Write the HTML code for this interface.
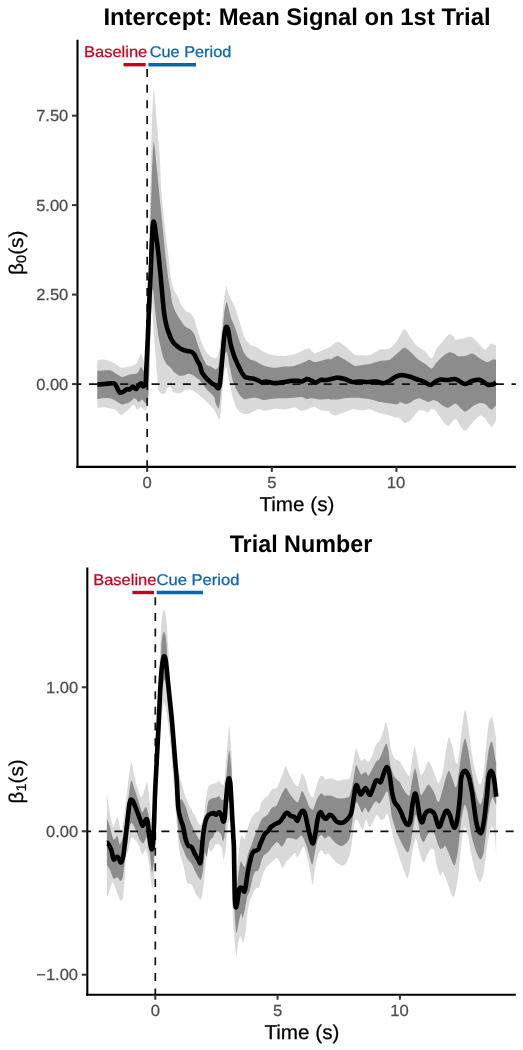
<!DOCTYPE html>
<html lang="en"><head><meta charset="utf-8"><title>Figure</title>
<style>html,body{margin:0;padding:0;background:#fff}svg{display:block}</style></head>
<body>
<svg width="523" height="1050" viewBox="0 0 523 1050" text-rendering="geometricPrecision" font-family='"Liberation Sans", sans-serif'>
<rect width="523" height="1050" fill="#fff"/>
<g id="p1">
<path d="M97.3 360.4C98.2 360.3 102.8 359.3 104.9 359.7C107.0 360.0 112.9 362.4 114.9 363.4C116.8 364.3 119.3 367.2 121.1 367.6C122.9 368.0 128.0 367.0 129.8 366.6C131.6 366.2 134.9 365.3 136.0 364.1C137.1 363.0 138.6 358.5 139.2 357.2C139.8 355.9 140.5 353.3 141.0 353.4C141.4 353.6 142.4 357.0 142.9 358.4C143.5 359.8 144.6 363.5 145.2 365.1C145.8 366.8 147.5 387.0 148.0 372.0C148.5 357.0 148.9 267.8 149.3 240.0C149.7 212.2 151.0 158.1 151.5 140.0C152.0 121.9 153.0 90.9 153.7 89.2C154.4 87.5 156.5 117.9 157.2 126.0C157.9 134.1 159.3 148.9 159.8 156.5C160.3 164.1 160.6 180.9 161.2 189.0C161.8 197.1 163.8 216.0 164.7 224.4C165.6 232.8 168.0 252.6 168.7 258.8C169.4 265.0 169.9 272.2 170.5 275.9C171.1 279.6 172.8 287.3 173.6 289.7C174.4 292.0 176.5 293.9 177.4 295.8C178.3 297.6 180.2 303.1 181.2 305.0C182.3 306.8 184.7 310.1 185.8 311.1C186.9 312.1 189.4 312.4 190.4 313.4C191.4 314.3 193.4 316.8 194.2 318.7C195.1 320.6 196.4 326.5 197.3 329.4C198.2 332.4 200.8 340.4 201.9 343.2C203.0 345.9 205.3 350.7 206.5 352.4C207.6 354.0 210.4 356.5 211.5 357.1C212.5 357.8 214.6 358.0 215.3 357.9C216.0 357.8 217.0 357.8 217.6 356.4C218.1 354.9 219.3 349.9 219.9 345.7C220.4 341.4 221.7 326.9 222.2 321.2C222.7 315.5 223.7 302.3 224.2 298.2C224.6 294.2 225.7 289.0 226.0 287.5C226.3 286.1 226.5 285.7 226.8 286.3C227.0 287.0 227.8 291.5 228.3 292.9C228.8 294.3 230.0 296.9 230.6 298.2C231.2 299.6 232.9 302.7 233.7 304.4C234.4 306.0 236.0 309.8 236.7 312.0C237.4 314.2 238.9 320.0 239.8 322.7C240.6 325.5 242.8 332.7 243.6 335.0C244.4 337.2 245.8 339.9 246.7 341.1C247.5 342.3 249.5 344.3 250.5 344.9C251.5 345.5 254.1 346.0 255.1 346.4C256.1 346.9 257.9 348.1 258.9 348.7C259.9 349.4 262.3 351.1 263.5 351.8C264.7 352.4 267.5 353.6 268.8 354.1C270.2 354.5 273.1 355.4 275.0 355.6C276.8 355.8 282.2 356.1 284.6 355.9C286.9 355.8 292.1 354.9 294.5 354.2C296.9 353.4 302.7 350.4 304.5 349.7C306.2 349.0 308.2 348.0 309.4 348.5C310.6 348.9 313.1 353.1 314.4 353.4C315.7 353.7 318.8 351.7 320.6 351.0C322.4 350.2 328.2 347.7 329.3 347.2C330.4 346.8 329.0 347.9 330.0 347.2C331.0 346.6 335.7 341.9 337.5 341.8C339.2 341.6 342.8 344.4 344.9 346.0C347.0 347.5 352.8 353.6 354.9 354.7C356.9 355.8 360.5 355.1 362.3 355.2C364.1 355.2 367.7 355.8 369.8 355.2C371.9 354.5 377.3 350.5 379.7 349.7C382.1 348.9 387.6 349.5 389.7 348.5C391.7 347.4 395.6 343.0 397.1 341.0C398.6 339.0 401.2 333.2 402.1 331.8C403.0 330.4 404.0 329.3 404.6 329.3C405.2 329.3 406.5 331.0 407.1 331.8C407.7 332.6 408.5 334.5 409.5 336.0C410.6 337.6 414.0 343.0 415.8 344.7C417.5 346.5 422.5 349.3 424.5 351.0C426.4 352.6 430.4 358.7 431.9 358.4C433.4 358.1 435.5 350.6 436.9 348.5C438.2 346.4 441.6 342.7 443.1 341.0C444.6 339.3 448.0 334.7 449.3 334.3C450.7 333.9 453.6 336.6 454.3 337.3C455.0 337.9 454.1 339.6 455.1 339.8C456.1 339.9 460.7 338.9 462.6 338.5C464.5 338.2 469.5 336.3 471.3 336.8C473.1 337.2 475.9 340.7 477.5 342.3C479.2 343.8 483.3 349.6 485.0 349.7C486.6 349.9 489.9 343.9 491.2 343.5C492.5 343.1 495.4 345.7 496.0 346.0L496.0 420.0C495.8 420.4 495.1 422.2 494.6 423.0C494.1 423.8 492.5 426.8 491.8 426.9C491.1 427.0 489.7 425.0 488.9 424.0C488.1 423.0 486.1 419.2 485.1 418.2C484.1 417.2 481.6 415.2 480.3 415.4C479.0 415.6 475.9 418.9 474.6 420.2C473.3 421.5 471.0 424.6 469.8 425.9C468.6 427.2 466.2 430.7 465.0 430.7C463.8 430.7 461.2 427.3 460.2 425.9C459.2 424.5 457.3 419.8 456.4 419.2C455.5 418.6 453.5 420.3 452.6 421.1C451.7 421.9 449.7 425.6 448.8 425.9C447.9 426.2 445.9 425.0 444.9 424.0C443.9 423.0 441.3 418.9 440.2 417.3C439.1 415.7 436.4 411.6 435.4 410.6C434.4 409.6 432.4 408.5 431.5 408.7C430.6 408.9 428.6 412.3 427.7 412.5C426.8 412.7 424.9 410.8 423.9 410.6C422.9 410.4 420.3 410.0 419.1 410.6C417.9 411.2 415.4 414.1 414.3 415.4C413.2 416.7 410.7 420.2 409.6 421.1C408.5 422.0 406.0 423.3 404.8 423.0C403.6 422.7 401.1 418.9 400.0 418.2C398.9 417.5 397.1 417.9 395.9 417.6C394.6 417.3 391.6 416.1 389.7 415.6C387.7 415.0 382.1 413.8 379.7 413.1C377.3 412.4 371.9 409.7 369.8 409.4C367.7 409.1 364.4 410.6 362.3 410.6C360.2 410.6 354.8 409.1 352.4 409.4C350.0 409.7 344.5 412.4 342.4 413.1C340.3 413.8 336.5 415.6 335.0 415.6C333.5 415.6 330.7 413.6 330.0 413.1C329.3 412.6 330.3 411.7 329.3 411.4C328.3 411.1 323.6 411.1 321.9 410.6C320.1 410.1 316.2 407.0 314.4 406.9C312.6 406.7 308.6 408.9 306.9 409.4C305.3 409.8 302.2 410.9 300.7 410.6C299.2 410.4 296.5 407.5 294.5 407.4C292.6 407.2 286.9 409.2 284.6 409.4C282.2 409.5 276.8 408.3 275.0 408.4C273.1 408.4 270.2 409.6 268.8 409.9C267.5 410.2 264.7 410.8 263.5 410.7C262.3 410.6 260.1 409.0 258.9 409.1C257.7 409.2 254.7 410.9 253.5 411.4C252.3 412.0 250.0 413.5 248.9 413.7C247.8 414.0 245.4 413.9 244.4 413.7C243.3 413.5 241.5 412.8 240.5 412.2C239.6 411.6 237.5 409.8 236.7 408.4C235.9 407.0 234.4 403.1 233.7 400.7C232.9 398.3 231.2 391.4 230.6 388.5C230.0 385.6 228.8 378.8 228.3 376.3C227.8 373.7 226.7 367.8 226.3 367.1C225.9 366.3 225.2 367.9 224.8 370.1C224.4 372.3 223.4 380.3 222.9 385.4C222.4 390.6 221.1 408.8 220.7 413.0C220.2 417.1 219.8 420.2 219.1 420.0C218.5 419.8 216.2 413.0 215.3 411.4C214.4 409.9 213.1 408.3 211.8 406.9C210.5 405.4 206.1 401.1 204.3 399.4C202.6 397.8 198.4 394.3 196.9 393.2C195.4 392.1 193.2 390.4 191.9 390.0C190.6 389.6 187.2 389.5 185.9 389.8C184.6 390.1 182.4 392.3 181.3 392.7C180.2 393.1 177.7 393.3 176.7 393.2C175.7 393.1 174.1 392.9 173.3 392.1C172.5 391.3 171.1 387.5 170.4 386.9C169.7 386.3 168.2 386.7 167.5 387.5C166.8 388.3 165.5 393.1 164.7 393.8C163.9 394.5 161.4 393.7 160.6 393.2C159.8 392.7 158.8 391.9 158.4 389.8C158.0 387.7 157.6 381.1 157.2 376.0C156.8 370.9 155.4 353.6 154.9 347.4C154.4 341.2 153.5 330.1 153.2 324.4C152.9 318.7 152.2 301.0 152.0 299.5C151.8 298.0 151.5 305.9 151.3 312.0C151.1 318.1 150.5 339.9 150.2 350.0C149.9 360.1 149.3 388.7 148.8 396.0C148.3 403.3 146.9 409.3 145.9 410.6C145.0 411.9 142.0 407.0 141.0 406.9C139.9 406.7 138.1 409.7 137.2 409.4C136.3 409.1 134.7 404.2 133.5 404.4C132.3 404.5 128.8 409.4 127.3 410.6C125.8 411.9 122.6 415.0 121.1 414.8C119.6 414.7 116.8 410.3 114.9 409.4C112.9 408.5 107.0 407.5 104.9 407.4C102.8 407.2 98.2 408.0 97.3 408.1Z" fill="#d9d9d9"/>
<path d="M97.3 370.8C98.8 370.8 107.5 369.9 109.9 370.3C112.3 370.8 115.9 373.8 117.3 374.6C118.8 375.4 120.8 377.1 122.3 377.1C123.8 377.1 128.0 375.0 129.8 374.6C131.6 374.1 135.9 374.2 137.2 373.3C138.6 372.4 140.2 367.4 141.0 367.1C141.7 366.8 142.9 369.9 143.4 370.8C144.0 371.7 145.1 374.0 145.7 374.6C146.2 375.2 147.5 389.7 148.0 376.0C148.5 362.3 149.0 283.5 149.5 260.0C150.0 236.5 151.3 194.2 151.8 180.0C152.3 165.8 153.1 142.9 153.7 141.9C154.3 140.9 156.6 166.0 157.2 171.8C157.8 177.6 158.3 183.7 158.9 190.0C159.5 196.3 161.6 216.1 162.4 224.4C163.2 232.7 165.1 252.6 165.8 258.8C166.5 265.0 167.4 272.0 167.9 275.9C168.5 279.8 170.0 287.9 170.5 291.2C171.1 294.5 171.7 300.9 172.4 303.4C173.0 306.0 174.9 310.6 175.9 312.6C176.9 314.6 179.4 318.6 180.5 320.2C181.6 321.9 183.9 325.3 185.1 326.4C186.3 327.5 189.3 328.5 190.4 329.4C191.5 330.3 193.4 332.4 194.2 334.0C195.1 335.7 196.4 340.6 197.3 343.2C198.2 345.8 200.8 352.9 201.9 355.4C203.0 358.0 205.3 363.2 206.5 364.6C207.6 366.0 210.4 366.5 211.5 367.1C212.5 367.6 214.5 369.4 215.3 369.4C216.1 369.4 217.5 368.5 218.0 367.1C218.6 365.7 219.4 361.6 219.9 357.9C220.4 354.2 221.7 341.8 222.2 336.5C222.7 331.2 223.7 317.5 224.2 313.5C224.6 309.6 225.7 304.9 226.0 303.6C226.4 302.3 226.7 302.0 227.1 302.8C227.4 303.7 228.5 308.6 229.1 310.5C229.6 312.4 230.7 317.1 231.4 318.9C232.0 320.7 233.7 323.8 234.4 325.8C235.2 327.7 236.7 332.7 237.5 335.0C238.2 337.2 239.8 342.1 240.5 344.1C241.3 346.1 242.9 350.3 243.6 351.8C244.3 353.2 245.8 355.4 246.7 356.4C247.5 357.3 249.5 358.9 250.5 359.4C251.5 360.0 254.1 360.5 255.1 361.0C256.1 361.4 257.9 362.7 258.9 363.3C259.9 363.8 262.3 365.1 263.5 365.5C264.7 366.0 267.5 366.8 268.8 367.1C270.2 367.3 273.1 367.9 275.0 367.8C276.8 367.8 282.2 366.9 284.6 366.6C286.9 366.4 292.1 366.4 294.5 365.9C296.9 365.3 302.7 362.9 304.5 362.1C306.2 361.4 308.2 359.7 309.4 359.7C310.6 359.7 313.1 362.0 314.4 362.1C315.7 362.3 318.8 361.3 320.6 360.9C322.4 360.5 328.2 358.6 329.3 358.4C330.4 358.3 329.0 360.0 330.0 359.7C331.0 359.4 335.7 355.9 337.5 355.9C339.2 355.9 342.8 358.5 344.9 359.7C347.0 360.8 352.8 365.2 354.9 365.9C356.9 366.5 360.5 365.3 362.3 365.1C364.1 364.9 367.7 364.6 369.8 364.1C371.9 363.6 377.3 361.4 379.7 360.9C382.1 360.4 387.4 360.7 389.7 359.7C391.9 358.6 396.6 353.6 398.4 352.2C400.1 350.8 403.1 347.7 404.6 347.7C406.1 347.7 409.3 350.9 410.8 352.2C412.3 353.5 415.4 357.1 417.0 358.4C418.6 359.8 422.7 362.2 424.5 363.4C426.2 364.6 430.4 368.5 431.9 368.4C433.4 368.2 435.5 363.6 436.9 362.1C438.2 360.7 441.6 357.1 443.1 355.9C444.6 354.7 448.0 352.5 449.3 352.2C450.7 351.9 453.3 353.0 454.3 353.4C455.3 353.9 456.3 355.6 457.6 355.9C458.9 356.2 463.3 356.2 465.1 355.9C466.9 355.6 470.8 353.1 472.5 353.4C474.3 353.7 478.2 357.4 480.0 358.4C481.8 359.5 486.0 362.0 487.5 362.1C488.9 362.3 491.4 360.0 492.4 359.7C493.5 359.4 495.6 359.7 496.0 359.7L496.0 405.5C495.8 405.7 495.1 406.3 494.6 406.8C494.1 407.3 492.5 409.5 491.8 409.6C491.1 409.7 489.7 408.4 488.9 407.7C488.1 407.0 486.1 404.5 485.1 403.9C484.1 403.3 481.6 402.8 480.3 402.9C479.0 403.0 475.9 404.2 474.6 404.9C473.3 405.6 471.0 407.9 469.8 408.7C468.6 409.5 466.2 411.6 465.0 411.5C463.8 411.4 461.2 408.6 460.2 407.7C459.2 406.8 457.3 404.2 456.4 403.9C455.5 403.6 453.6 404.4 452.6 404.9C451.6 405.4 449.0 407.6 447.8 407.7C446.6 407.8 444.2 406.5 443.0 405.8C441.8 405.1 439.3 402.7 438.2 402.0C437.1 401.3 434.6 400.1 433.5 400.1C432.4 400.1 429.9 402.0 428.7 402.0C427.5 402.0 425.1 400.6 423.9 400.1C422.7 399.6 420.3 398.2 419.1 398.2C417.9 398.2 415.4 399.5 414.3 400.1C413.2 400.7 410.7 402.4 409.6 402.9C408.5 403.4 406.0 404.0 404.8 403.9C403.6 403.8 400.9 401.9 400.0 402.0C399.1 402.1 398.4 404.3 397.1 404.4C395.9 404.5 391.7 403.5 389.7 403.2C387.6 402.9 382.0 402.4 379.7 401.9C377.5 401.5 373.1 399.9 371.0 399.4C368.9 399.0 364.6 398.4 362.3 398.2C360.1 398.0 354.5 397.7 352.4 397.7C350.3 397.7 346.7 398.0 344.9 398.2C343.1 398.4 339.2 399.3 337.5 399.4C335.7 399.6 331.0 399.5 330.0 399.4C329.0 399.4 330.6 398.9 329.3 398.9C328.0 398.9 321.5 399.5 319.4 399.4C317.3 399.3 313.4 398.2 311.9 398.2C310.4 398.1 308.1 399.1 306.9 398.9C305.7 398.8 303.5 397.1 302.0 396.9C300.5 396.8 296.6 397.5 294.5 397.7C292.4 397.8 286.9 398.1 284.6 398.2C282.2 398.3 276.8 398.3 275.0 398.4C273.1 398.6 270.2 399.0 268.8 399.2C267.5 399.4 264.7 400.1 263.5 400.0C262.3 399.9 260.0 398.7 258.9 398.4C257.8 398.2 255.5 397.7 254.3 397.7C253.1 397.7 250.1 398.2 248.9 398.4C247.8 398.6 245.4 399.5 244.4 399.2C243.3 398.9 241.5 397.2 240.5 396.1C239.6 395.0 237.6 391.9 236.7 390.0C235.8 388.2 233.7 383.6 232.9 380.8C232.1 378.1 230.5 370.2 229.8 367.1C229.2 364.0 228.0 356.7 227.5 354.8C227.1 353.0 226.4 351.4 226.0 351.8C225.6 352.1 224.9 354.6 224.5 357.9C224.0 361.2 222.7 374.0 222.2 379.3C221.6 384.6 220.3 398.8 219.9 402.3C219.4 405.7 218.9 408.4 218.4 408.4C217.8 408.4 215.8 403.6 215.3 402.3C214.8 400.9 215.3 398.5 214.3 396.9C213.3 395.4 208.5 391.4 206.8 389.5C205.1 387.5 201.1 381.9 200.0 380.6C198.9 379.3 198.3 379.0 197.4 378.3C196.5 377.6 193.9 375.5 192.8 374.9C191.7 374.3 189.3 373.6 188.2 373.7C187.1 373.8 184.7 375.3 183.6 375.5C182.5 375.7 180.1 375.8 179.0 375.5C177.9 375.2 175.4 373.5 174.4 372.6C173.4 371.7 171.9 369.0 171.0 368.0C170.1 367.0 168.0 366.0 167.0 364.6C166.0 363.2 163.9 359.9 162.9 356.5C161.9 353.1 159.3 341.1 158.4 335.9C157.5 330.7 156.1 318.5 155.5 312.9C154.9 307.3 153.4 290.5 153.0 289.0C152.6 287.5 152.2 293.3 151.8 300.0C151.4 306.7 150.4 334.0 150.0 345.0C149.6 356.0 149.0 385.0 148.5 392.0C148.0 399.0 146.7 402.3 145.9 403.2C145.2 404.0 143.1 399.6 142.2 399.4C141.3 399.3 139.4 402.1 138.5 401.9C137.6 401.8 135.8 398.2 134.7 398.2C133.7 398.2 131.3 401.2 129.8 401.9C128.3 402.7 123.8 404.4 122.3 404.4C120.8 404.4 118.8 402.7 117.3 401.9C115.9 401.2 112.3 398.5 109.9 398.2C107.5 397.8 98.8 398.8 97.3 398.9Z" fill="#8c8c8c"/>
<line x1="77.50" y1="384.10" x2="515.80" y2="384.10" stroke="#111" stroke-width="1.7" stroke-dasharray="8 7.65" stroke-dashoffset="4.2"/>
<line x1="147.15" y1="69.00" x2="147.15" y2="466.90" stroke="#111" stroke-width="1.7" stroke-dasharray="8 7.65"/>
<path d="M97.3 384.5C98.6 384.4 102.2 384.2 104.9 384.0C107.6 383.8 111.7 383.0 113.6 383.3C115.5 383.6 115.1 384.2 116.1 385.8C117.1 387.3 118.6 391.5 119.8 392.5C121.1 393.4 122.3 392.1 123.6 391.5C124.8 390.9 126.2 389.3 127.3 389.0C128.3 388.7 128.9 389.9 129.8 389.5C130.7 389.1 131.7 386.6 132.8 386.5C133.8 386.4 135.0 389.1 136.0 389.0C136.9 388.9 137.6 386.7 138.5 385.8C139.3 384.8 140.2 383.2 141.0 383.3C141.7 383.4 142.3 386.0 142.9 386.3C143.6 386.5 144.2 385.6 144.7 385.0C145.1 384.5 145.4 386.0 145.7 383.0C146.0 380.0 146.0 375.0 146.4 367.0C146.8 359.0 147.4 346.2 147.9 335.0C148.4 323.8 148.8 310.8 149.3 300.0C149.8 289.2 150.4 279.0 150.8 270.0C151.2 261.0 151.4 253.0 151.7 246.0C152.0 239.0 152.3 232.1 152.6 228.0C152.9 223.9 153.1 222.3 153.4 221.7C153.7 221.1 154.0 221.9 154.5 224.5C155.0 227.1 155.7 232.3 156.3 237.0C156.9 241.7 157.6 246.5 158.3 252.9C159.0 259.4 159.9 268.4 160.6 275.9C161.3 283.4 162.0 291.8 162.6 298.0C163.2 304.2 163.5 308.5 164.1 312.9C164.7 317.3 165.4 321.1 166.2 324.4C166.9 327.6 167.7 329.9 168.6 332.4C169.5 334.9 170.5 337.6 171.5 339.5C172.5 341.4 173.2 342.5 174.4 343.8C175.6 345.1 177.2 346.2 178.5 347.2C179.8 348.2 181.1 349.0 182.5 349.6C183.9 350.2 185.5 350.6 187.0 351.0C188.5 351.4 190.3 351.3 191.6 352.0C192.9 352.7 193.6 353.5 194.6 355.0C195.6 356.5 196.6 359.2 197.5 361.0C198.4 362.8 199.3 363.6 200.0 365.5C200.7 367.4 200.9 370.2 201.9 372.3C202.8 374.3 204.6 376.2 205.7 377.6C206.9 379.0 207.8 379.7 208.8 380.7C209.7 381.6 210.4 382.3 211.5 383.1C212.6 383.9 214.2 384.6 215.3 385.4C216.4 386.3 217.3 388.4 218.0 388.2C218.8 387.9 219.2 388.7 219.9 383.9C220.6 379.1 221.5 367.3 222.2 359.4C222.9 351.5 223.6 341.7 224.2 336.5C224.8 331.3 225.3 329.6 225.7 328.1C226.1 326.5 226.4 326.9 226.8 327.0C227.1 327.1 227.5 327.8 227.8 328.8C228.2 329.9 228.3 330.9 228.8 333.4C229.2 336.0 229.8 340.6 230.6 344.1C231.4 347.7 232.5 351.5 233.7 354.8C234.8 358.2 236.2 361.2 237.5 364.0C238.8 366.8 240.2 369.6 241.3 371.7C242.4 373.7 243.3 375.2 244.4 376.3C245.4 377.3 246.0 377.4 247.4 377.8C248.8 378.2 251.1 378.2 252.8 378.5C254.4 378.9 255.8 379.4 257.4 380.1C258.9 380.7 260.5 382.1 262.0 382.4C263.4 382.6 264.4 381.6 265.8 381.6C267.2 381.6 268.8 382.1 270.4 382.4C271.9 382.6 272.6 383.2 275.0 383.1C277.3 383.1 281.7 382.4 284.6 382.0C287.4 381.6 289.7 381.0 292.0 380.8C294.3 380.6 296.6 380.7 298.2 380.8C299.9 380.9 300.5 381.8 302.0 381.5C303.4 381.2 305.3 379.2 306.9 379.0C308.6 378.9 310.5 380.2 311.9 380.8C313.4 381.4 314.2 382.9 315.6 382.8C317.1 382.6 318.7 380.5 320.6 380.0C322.5 379.6 324.5 380.3 326.8 380.0C329.1 379.7 332.5 378.7 334.3 378.3C336.1 377.9 335.7 377.4 337.5 377.6C339.2 377.7 342.4 378.3 344.9 379.0C347.4 379.8 349.9 381.6 352.4 382.0C354.9 382.4 357.3 381.5 359.8 381.5C362.3 381.5 364.6 382.0 367.3 382.0C370.0 382.0 373.3 381.3 376.0 381.5C378.7 381.7 381.2 383.4 383.4 383.3C385.7 383.1 387.6 381.9 389.7 380.8C391.7 379.7 393.8 377.5 395.9 376.6C397.9 375.6 399.8 375.1 402.1 375.1C404.4 375.1 407.3 375.9 409.5 376.6C411.8 377.2 413.7 378.3 415.8 379.0C417.8 379.7 420.1 380.1 422.0 380.8C423.8 381.5 425.5 382.6 426.9 383.3C428.4 384.0 429.2 385.3 430.7 385.0C432.1 384.7 434.0 382.4 435.6 381.5C437.3 380.6 438.7 379.8 440.6 379.5C442.5 379.3 444.5 380.1 446.8 380.0C449.1 380.0 452.5 379.0 454.3 379.0C456.1 379.0 455.8 379.2 457.6 380.0C459.4 380.9 462.6 383.9 465.1 384.0C467.6 384.1 470.1 381.4 472.5 380.8C475.0 380.1 477.5 379.4 480.0 380.0C482.5 380.7 485.4 383.8 487.5 384.5C489.5 385.3 491.0 384.8 492.4 384.5C493.9 384.2 495.4 382.9 496.0 382.5" fill="none" stroke="#000" stroke-width="4.6" stroke-linejoin="round" stroke-linecap="butt"/>
<line x1="123.5" y1="64.7" x2="145.7" y2="64.7" stroke="#ca0020" stroke-width="3.4"/>
<line x1="148.4" y1="64.7" x2="196.0" y2="64.7" stroke="#0a63b4" stroke-width="3.4"/>
<text transform="translate(83.97,57.40) scale(1.0643,1)" font-size="15.5" stroke="#ca0020" stroke-width="0.25" fill="#ca0020">Baseline</text>
<text transform="translate(149.71,57.40) scale(1.0521,1)" font-size="15.5" stroke="#0a63b4" stroke-width="0.25" fill="#0a63b4">Cue Period</text>
<path d="M77.50 39.80V466.90H515.80" fill="none" stroke="#000" stroke-width="2.1"/>
<rect x="76.45" y="465.85" width="2.1" height="2.1" fill="#000"/>
<line x1="72.00" x2="77.50" y1="115.70" y2="115.70" stroke="#333" stroke-width="2"/>
<text transform="translate(36.18,121.45) scale(1.0300,1)" font-size="16" stroke="#4d4d4d" stroke-width="0.25" fill="#4d4d4d">7.50</text>
<line x1="72.00" x2="77.50" y1="205.10" y2="205.10" stroke="#333" stroke-width="2"/>
<text transform="translate(36.18,210.85) scale(1.0300,1)" font-size="16" stroke="#4d4d4d" stroke-width="0.25" fill="#4d4d4d">5.00</text>
<line x1="72.00" x2="77.50" y1="294.60" y2="294.60" stroke="#333" stroke-width="2"/>
<text transform="translate(36.18,300.35) scale(1.0300,1)" font-size="16" stroke="#4d4d4d" stroke-width="0.25" fill="#4d4d4d">2.50</text>
<line x1="72.00" x2="77.50" y1="384.10" y2="384.10" stroke="#333" stroke-width="2"/>
<text transform="translate(36.18,389.85) scale(1.0300,1)" font-size="16" stroke="#4d4d4d" stroke-width="0.25" fill="#4d4d4d">0.00</text>
<line x1="147.15" x2="147.15" y1="466.90" y2="471.90" stroke="#333" stroke-width="2"/>
<text transform="translate(142.53,488.10) scale(1.0400,1)" font-size="16" stroke="#4d4d4d" stroke-width="0.25" fill="#4d4d4d">0</text>
<line x1="271.80" x2="271.80" y1="466.90" y2="471.90" stroke="#333" stroke-width="2"/>
<text transform="translate(267.19,488.10) scale(1.0400,1)" font-size="16" stroke="#4d4d4d" stroke-width="0.25" fill="#4d4d4d">5</text>
<line x1="396.40" x2="396.40" y1="466.90" y2="471.90" stroke="#333" stroke-width="2"/>
<text transform="translate(386.84,488.10) scale(1.0400,1)" font-size="16" stroke="#4d4d4d" stroke-width="0.25" fill="#4d4d4d">10</text>
<text transform="translate(259.38,510.80) scale(1.0342,1)" font-size="20" stroke="#000" stroke-width="0.25" fill="#000">Time (s)</text>
<text transform="translate(22.50,274.93) rotate(-90) scale(1.0400,1)" font-size="20" fill="#000" stroke="#000" stroke-width="0.22">β<tspan font-size="14" dy="3.9">0</tspan><tspan dy="-3.9">(s)</tspan></text>
<text transform="translate(103.38,24.50) scale(0.9942,1)" font-size="24" font-weight="bold" fill="#000">Intercept: Mean Signal on 1st Trial</text>
</g>
<g id="p2">
<path d="M106.9 793.4C107.1 794.8 108.1 801.5 108.6 804.6C109.1 807.8 110.5 816.9 111.1 819.5C111.7 822.2 112.9 827.3 113.6 827.0C114.4 826.7 116.6 817.1 117.3 817.1C118.1 817.1 119.2 825.5 119.8 827.0C120.4 828.5 121.4 834.0 122.3 829.5C123.2 825.0 126.2 797.8 127.3 789.7C128.3 781.7 130.3 764.5 131.0 762.4C131.8 760.3 132.8 769.3 133.5 772.3C134.2 775.3 136.3 784.2 137.2 787.2C138.1 790.2 140.2 796.4 141.0 797.2C141.7 797.9 142.7 795.2 143.4 793.4C144.2 791.7 146.4 781.2 147.2 782.3C147.9 783.3 149.1 797.7 149.7 802.1C150.3 806.6 151.5 819.8 152.1 819.5C152.8 819.3 154.4 811.9 155.0 800.0C155.6 788.1 156.9 736.2 157.5 720.0C158.1 703.8 159.3 673.9 159.6 665.0C159.9 656.1 160.1 650.9 160.3 645.9C160.5 640.9 161.1 626.9 161.4 623.0C161.7 619.1 162.3 614.6 162.6 613.0C162.9 611.4 163.7 609.9 164.0 609.9C164.3 609.9 165.1 611.4 165.4 613.0C165.7 614.6 166.4 619.1 166.7 623.0C167.0 626.9 167.9 640.9 168.2 645.9C168.5 650.9 168.8 657.9 169.2 665.0C169.6 672.1 170.8 695.4 171.5 705.0C172.2 714.6 174.2 737.0 175.0 745.0C175.8 753.0 177.8 767.8 178.5 772.0C179.2 776.2 180.0 777.2 180.7 779.8C181.4 782.3 183.4 790.3 184.5 793.4C185.5 796.6 188.2 803.3 189.4 805.9C190.6 808.4 193.2 812.3 194.4 814.6C195.6 816.8 198.3 823.6 199.4 824.5C200.4 825.4 202.4 824.7 203.1 822.0C203.8 819.3 205.0 806.3 205.6 802.1C206.2 798.0 207.3 789.4 208.1 787.2C208.8 785.1 210.9 784.7 211.8 784.2C212.7 783.8 214.4 783.7 215.3 783.3C216.2 782.9 218.3 780.8 219.1 781.0C219.9 781.2 221.5 784.7 222.2 784.8C222.8 784.9 224.0 784.9 224.5 781.8C225.0 778.7 225.9 764.0 226.3 758.8C226.7 753.7 227.5 742.9 227.8 738.9C228.2 735.0 229.0 725.8 229.4 725.9C229.7 726.1 230.3 736.0 230.6 740.5C230.9 745.0 231.9 754.5 232.1 763.4C232.4 772.4 232.3 804.6 232.5 815.0C232.7 825.4 233.6 843.2 234.0 850.0C234.4 856.8 235.2 868.9 235.5 872.0C235.8 875.1 236.4 877.3 236.7 876.0C237.0 874.7 237.6 864.8 237.9 861.2C238.2 857.6 239.1 848.9 239.5 845.9C239.9 842.9 240.6 837.1 241.0 836.0C241.4 834.9 242.0 836.3 242.5 836.7C243.0 837.1 244.4 839.3 244.8 839.0C245.2 838.7 245.4 835.5 245.9 833.8C246.4 832.1 248.2 826.6 248.9 824.6C249.7 822.6 251.2 818.4 252.0 817.0C252.8 815.5 255.0 813.1 255.8 812.4C256.7 811.6 258.2 811.9 258.9 810.8C259.5 809.7 260.5 804.7 261.2 803.2C261.8 801.7 263.4 799.5 264.2 798.6C265.1 797.7 267.2 796.6 268.1 795.5C269.0 794.4 270.9 790.3 271.9 789.4C272.9 788.5 275.6 788.8 276.5 787.9C277.4 787.0 278.7 784.1 279.5 782.3C280.4 780.4 282.5 774.3 283.3 772.3C284.0 770.4 285.0 765.8 285.8 766.1C286.5 766.4 288.4 772.7 289.5 774.8C290.5 776.9 293.4 782.2 294.5 783.5C295.5 784.8 297.3 787.2 298.2 786.0C299.1 784.8 301.0 774.3 301.9 773.6C302.8 772.8 304.7 777.4 305.6 779.8C306.5 782.2 308.5 791.4 309.4 793.4C310.3 795.5 312.2 798.2 313.1 797.2C314.0 796.1 315.9 787.3 316.8 784.7C317.7 782.2 319.7 776.9 320.6 776.0C321.4 775.1 323.8 776.9 324.3 777.3C324.8 777.7 324.1 779.4 324.9 779.5C325.7 779.7 329.6 778.1 331.1 778.3C332.6 778.4 335.9 780.6 337.3 780.8C338.8 780.9 342.1 779.8 343.6 779.5C345.0 779.2 348.7 780.1 349.8 778.3C350.9 776.5 352.0 768.2 352.8 764.6C353.5 761.0 355.3 749.7 356.0 748.5C356.7 747.3 357.9 753.2 358.5 754.7C359.1 756.2 360.2 760.5 361.0 760.9C361.7 761.3 363.8 758.3 364.7 758.4C365.6 758.6 367.5 762.4 368.4 762.1C369.3 761.8 371.2 758.0 372.1 755.9C373.0 753.8 375.0 746.5 375.9 744.7C376.8 743.0 378.7 742.7 379.6 741.0C380.5 739.4 382.6 733.3 383.3 731.1C384.1 728.8 385.2 722.4 385.8 722.4C386.4 722.4 387.7 727.9 388.3 731.1C388.9 734.2 390.0 745.2 390.8 748.5C391.5 751.8 393.5 756.9 394.5 758.4C395.6 759.9 398.3 759.6 399.5 760.9C400.7 762.2 403.3 767.8 404.5 769.6C405.6 771.4 408.5 776.9 409.4 775.8C410.3 774.8 411.3 764.5 411.9 760.9C412.5 757.3 413.8 746.6 414.4 746.0C415.0 745.4 416.1 752.5 416.9 755.9C417.6 759.4 419.7 772.8 420.6 774.6C421.5 776.4 423.4 772.5 424.3 770.8C425.2 769.2 427.2 761.3 428.1 760.9C429.0 760.5 430.9 765.2 431.8 767.1C432.7 769.1 435.0 775.6 435.5 777.1C436.1 778.5 436.1 778.7 436.5 779.4C436.9 780.2 438.2 784.0 439.0 783.2C439.7 782.3 441.9 775.7 442.7 772.0C443.5 768.2 445.0 756.3 445.7 752.1C446.4 747.9 448.2 737.9 448.9 737.2C449.7 736.4 451.4 743.2 452.2 745.9C452.9 748.6 454.5 757.5 455.1 759.5C455.8 761.6 457.0 765.1 457.6 763.3C458.2 761.5 459.5 749.5 460.1 744.6C460.7 739.7 462.0 726.4 462.6 722.3C463.2 718.1 464.5 710.0 465.1 709.8C465.7 709.7 466.9 716.8 467.6 721.0C468.2 725.2 469.8 739.4 470.6 744.6C471.3 749.8 472.9 760.3 473.8 764.5C474.6 768.7 476.7 777.0 477.5 779.4C478.3 781.8 479.7 785.3 480.5 784.4C481.2 783.5 483.0 776.7 483.7 772.0C484.4 767.2 485.6 750.4 486.2 744.6C486.8 738.8 488.0 726.8 488.7 723.5C489.4 720.2 491.1 716.8 491.7 716.8C492.3 716.8 493.2 721.4 493.7 723.5C494.1 725.6 495.1 733.0 495.4 734.7C495.7 736.3 496.1 736.9 496.2 737.2L496.2 854.6C496.0 852.5 495.3 840.5 494.9 837.2C494.5 833.9 493.5 828.1 492.9 827.2C492.4 826.3 491.2 827.3 490.4 829.7C489.7 832.1 487.8 842.0 487.0 847.1C486.2 852.2 484.5 867.8 483.7 872.0C483.0 876.1 481.4 881.6 480.5 881.9C479.6 882.2 477.4 877.7 476.3 874.5C475.2 871.2 472.3 859.3 471.3 854.6C470.3 849.8 468.4 838.0 467.6 834.7C466.8 831.4 465.3 826.0 464.6 827.2C463.8 828.4 462.1 838.7 461.4 844.6C460.6 850.6 458.9 871.1 458.1 876.9C457.4 882.8 455.8 890.7 455.1 893.1C454.5 895.5 453.4 897.6 452.7 896.8C451.9 896.1 449.8 889.3 448.9 886.9C448.0 884.5 445.9 878.7 445.2 876.9C444.5 875.2 443.3 872.1 442.7 872.0C442.1 871.8 441.0 876.6 440.2 875.7C439.5 874.8 437.2 867.5 436.5 864.5C435.8 861.5 434.9 852.8 434.3 850.9C433.7 849.0 432.1 848.0 431.3 848.4C430.5 848.9 428.2 853.0 427.3 854.6C426.5 856.3 425.1 861.6 424.3 862.1C423.6 862.5 422.1 860.3 421.4 858.4C420.6 856.4 418.8 848.3 418.1 845.9C417.4 843.5 416.3 837.7 415.6 838.5C415.0 839.2 413.1 848.4 412.4 852.1C411.7 855.9 410.5 866.4 409.9 869.5C409.3 872.7 408.1 877.9 407.4 878.2C406.8 878.5 405.3 874.1 404.5 872.0C403.6 869.9 401.6 863.5 400.7 860.8C399.8 858.2 397.9 852.5 397.0 849.7C396.1 846.8 394.2 840.7 393.3 837.2C392.4 833.8 390.3 823.9 389.5 821.1C388.8 818.2 387.7 813.9 387.1 813.6C386.5 813.3 385.3 817.8 384.6 818.6C383.8 819.3 381.7 820.3 380.8 819.8C379.9 819.4 378.0 814.7 377.1 814.9C376.2 815.0 374.3 819.6 373.4 821.1C372.5 822.6 370.6 827.4 369.7 827.3C368.8 827.1 366.8 819.5 365.9 819.8C365.1 820.1 363.4 829.2 362.7 829.8C362.0 830.4 360.4 826.0 359.7 824.8C359.1 823.6 357.8 820.1 357.2 819.8C356.6 819.5 355.3 819.9 354.7 822.3C354.1 824.7 352.9 835.8 352.3 839.7C351.7 843.6 350.5 851.8 349.8 854.6C349.0 857.5 346.9 862.0 346.0 863.3C345.1 864.7 343.4 865.8 342.3 865.8C341.3 865.8 338.5 864.2 337.3 863.3C336.1 862.4 333.4 859.5 332.4 858.4C331.3 857.2 329.5 853.8 328.6 853.4C327.7 852.9 325.8 855.1 324.9 854.6C324.0 854.2 322.1 849.4 321.2 849.7C320.3 850.0 318.3 854.4 317.5 857.1C316.7 859.8 315.1 868.7 314.5 872.0C313.9 875.3 313.2 885.3 312.6 884.7C312.0 884.2 310.4 871.8 309.4 867.3C308.4 862.9 305.4 849.4 304.4 847.5C303.4 845.5 301.5 850.0 300.7 851.2C299.8 852.4 298.1 857.2 297.4 857.4C296.8 857.6 295.9 852.7 295.0 852.8C294.1 852.9 291.0 857.2 290.0 858.2C289.0 859.2 287.5 860.2 286.8 861.0C286.1 861.8 285.0 864.0 284.5 864.9C284.0 865.8 283.0 868.3 282.5 868.2C282.0 868.1 281.1 865.0 280.6 863.9C280.1 862.8 278.7 859.8 278.2 859.1C277.7 858.4 276.9 857.5 276.3 857.7C275.7 857.9 274.2 860.0 273.5 860.6C272.8 861.2 271.3 862.3 270.6 862.9C269.9 863.5 268.4 865.0 267.7 865.8C267.0 866.6 265.5 868.4 264.9 869.6C264.3 870.8 263.0 873.9 262.5 875.4C262.0 876.9 261.1 880.6 260.6 882.1C260.1 883.6 259.1 887.1 258.6 887.8C258.1 888.5 257.2 887.5 256.7 887.8C256.2 888.1 254.9 889.7 254.3 890.7C253.7 891.7 252.5 895.0 252.0 896.0C251.5 897.0 251.0 897.3 250.5 899.0C250.0 900.7 248.5 906.2 247.9 910.1C247.3 914.0 246.2 927.6 245.6 931.5C245.0 935.4 243.9 942.4 243.3 943.0C242.7 943.6 240.8 935.8 240.2 936.1C239.6 936.4 238.4 942.9 237.9 945.3C237.4 947.7 236.8 956.8 236.4 956.0C236.0 955.2 234.8 945.5 234.3 939.0C233.8 932.5 232.7 914.8 232.3 902.0C231.9 889.2 231.4 842.1 231.1 832.3C230.7 822.4 229.8 820.6 229.4 820.0C228.9 819.5 228.0 824.1 227.5 827.7C227.1 831.3 226.1 846.1 225.6 849.9C225.1 853.8 224.0 860.0 223.6 859.9C223.2 859.8 222.7 850.9 222.2 849.1C221.6 847.2 219.9 845.0 219.1 844.5C218.3 843.9 215.9 844.2 215.3 844.5C214.7 844.8 214.9 846.0 214.3 846.9C213.7 847.8 211.3 851.8 210.6 851.9C209.8 851.9 208.7 845.9 208.1 847.5C207.5 849.0 206.2 859.8 205.6 864.9C205.0 869.9 203.7 885.5 203.1 889.7C202.5 893.9 201.5 899.2 200.6 899.7C199.7 900.1 196.7 895.2 195.6 893.4C194.6 891.7 193.0 886.1 191.9 884.7C190.9 883.4 188.0 884.7 186.9 882.3C185.9 879.8 184.1 867.9 183.2 864.3C182.3 860.6 180.3 856.9 179.5 851.9C178.7 846.8 177.3 829.7 176.6 822.0C175.9 814.3 174.6 796.4 174.0 788.0C173.4 779.6 171.8 759.2 171.2 752.0C170.6 744.8 169.2 732.8 168.6 728.0C168.0 723.2 167.0 715.1 166.5 712.0C166.0 708.9 164.9 702.5 164.4 702.5C163.9 702.5 162.8 708.1 162.3 712.0C161.8 715.9 160.9 728.6 160.5 735.0C160.1 741.4 159.1 757.2 158.7 765.0C158.3 772.8 157.4 791.0 157.0 800.0C156.6 809.0 155.7 830.4 155.3 840.0C154.9 849.6 154.4 874.2 154.0 880.0C153.6 885.8 152.7 890.4 152.1 888.5C151.6 886.6 149.9 869.0 149.2 864.3C148.4 859.6 146.8 850.6 145.9 849.4C145.1 848.2 143.1 854.9 142.2 854.3C141.3 853.7 139.4 846.2 138.5 844.4C137.6 842.6 135.6 840.2 134.7 839.4C133.8 838.7 131.9 836.4 131.0 838.2C130.1 840.0 127.9 852.6 127.3 854.3C126.7 856.0 126.3 849.7 126.0 852.4C125.7 855.2 125.2 871.8 124.8 877.3C124.4 882.8 123.4 895.7 122.8 898.4C122.2 901.1 120.6 900.7 119.8 899.7C119.0 898.6 117.0 891.8 116.1 889.7C115.2 887.6 113.3 881.8 112.4 882.3C111.5 882.7 109.3 891.7 108.6 893.4C108.0 895.2 107.1 896.7 106.9 897.2Z" fill="#d9d9d9"/>
<path d="M106.9 818.3C107.3 819.3 109.1 824.5 109.9 827.0C110.7 829.5 112.7 838.4 113.6 839.4C114.5 840.5 116.6 835.1 117.3 835.7C118.1 836.3 119.1 844.5 119.8 844.4C120.6 844.2 122.7 838.9 123.6 834.5C124.5 830.0 126.4 813.5 127.3 807.1C128.2 800.7 130.1 783.1 131.0 781.0C131.9 778.9 133.8 787.3 134.7 789.7C135.6 792.1 137.6 798.2 138.5 800.9C139.4 803.6 141.3 811.3 142.2 812.1C143.1 812.8 145.2 806.8 145.9 807.1C146.7 807.4 147.8 811.6 148.4 814.6C149.0 817.6 150.0 832.5 150.9 832.0C151.7 831.4 154.6 821.0 155.5 810.0C156.4 799.0 157.4 757.0 158.0 740.0C158.6 723.0 160.2 679.3 160.6 668.0C161.0 656.7 161.2 649.9 161.4 645.9C161.6 641.9 162.3 636.7 162.6 635.0C162.9 633.3 163.7 631.4 164.0 631.4C164.3 631.4 165.1 633.3 165.4 635.0C165.7 636.7 166.4 641.9 166.7 645.9C167.0 649.9 167.2 660.3 167.6 668.0C168.0 675.7 169.1 697.8 170.0 710.0C170.9 722.2 174.0 759.5 175.0 770.0C176.0 780.5 177.4 793.6 178.2 797.2C179.1 800.7 181.1 798.5 182.0 799.7C182.9 800.8 184.8 804.7 185.7 807.1C186.6 809.5 188.4 816.7 189.4 819.5C190.5 822.4 193.2 828.3 194.4 830.7C195.6 833.1 198.3 838.5 199.4 839.4C200.4 840.3 202.4 840.6 203.1 838.2C203.8 835.8 205.0 823.9 205.6 819.5C206.2 815.2 207.3 804.7 208.1 802.1C208.8 799.6 210.9 798.9 211.8 798.4C212.7 797.9 214.4 798.1 215.3 797.8C216.2 797.6 218.3 796.0 219.1 796.3C219.9 796.6 221.5 800.0 222.2 800.1C222.8 800.2 224.0 799.8 224.5 797.1C225.0 794.3 225.9 781.6 226.3 777.2C226.7 772.8 227.5 763.6 227.8 760.4C228.2 757.2 229.0 750.4 229.4 750.4C229.7 750.4 230.3 757.3 230.6 760.4C230.9 763.4 231.6 767.3 231.8 775.7C232.0 784.0 232.1 819.6 232.3 830.0C232.5 840.4 233.4 855.5 233.8 862.0C234.2 868.5 235.0 880.6 235.3 884.0C235.6 887.4 236.4 890.5 236.7 890.0C237.0 889.5 237.6 882.2 237.9 879.5C238.2 876.8 239.1 869.5 239.5 867.3C239.9 865.1 240.6 861.6 241.0 861.2C241.4 860.8 242.0 863.5 242.5 864.2C243.0 864.9 244.3 867.7 244.8 867.3C245.3 866.9 245.9 863.0 246.4 861.2C246.9 859.4 248.1 854.0 248.7 852.0C249.3 850.0 251.0 846.2 251.7 844.4C252.4 842.6 253.5 838.9 254.3 836.8C255.1 834.8 257.3 829.7 258.1 827.7C259.0 825.6 260.5 821.3 261.2 820.0C261.9 818.7 263.4 817.7 264.2 817.0C265.1 816.2 267.2 815.0 268.1 813.9C269.0 812.8 270.9 808.8 271.9 807.8C272.9 806.8 275.4 806.9 276.5 805.5C277.5 804.1 279.7 798.1 280.8 795.9C281.9 793.8 284.7 788.0 285.8 787.7C286.8 787.4 288.4 792.0 289.5 793.4C290.5 794.9 293.4 798.6 294.5 799.7C295.5 800.7 297.3 803.2 298.2 802.1C299.1 801.1 301.0 791.6 301.9 791.0C302.8 790.4 304.7 795.2 305.6 797.2C306.5 799.1 308.5 805.6 309.4 807.1C310.3 808.6 312.2 810.5 313.1 809.6C314.0 808.7 315.9 801.6 316.8 799.7C317.7 797.7 319.7 793.9 320.6 793.4C321.4 793.0 323.8 795.7 324.3 795.9C324.8 796.2 324.1 795.7 324.9 795.7C325.7 795.7 329.6 795.4 331.1 795.7C332.6 796.0 335.9 797.9 337.3 798.2C338.8 798.5 342.1 798.5 343.6 798.2C345.0 797.9 348.6 797.9 349.8 795.7C351.0 793.5 352.8 783.2 353.5 779.5C354.2 775.9 355.4 766.3 356.0 765.1C356.6 763.9 357.9 768.5 358.5 769.6C359.1 770.7 360.4 774.1 361.0 774.6C361.6 775.0 362.8 773.6 363.4 773.3C364.0 773.0 365.3 771.8 365.9 772.1C366.5 772.4 367.7 776.1 368.4 775.8C369.2 775.5 371.2 771.2 372.1 769.6C373.0 768.0 375.0 763.5 375.9 762.1C376.8 760.8 378.7 759.9 379.6 758.4C380.5 756.9 382.5 751.5 383.3 749.7C384.1 747.9 385.7 743.5 386.3 743.5C386.9 743.5 387.8 746.9 388.3 749.7C388.8 752.5 390.0 763.8 390.8 767.1C391.5 770.4 393.5 775.3 394.5 777.1C395.6 778.8 398.3 780.4 399.5 782.0C400.7 783.7 403.3 789.1 404.5 790.7C405.6 792.4 408.5 796.7 409.4 795.7C410.3 794.7 411.3 785.3 411.9 782.0C412.6 778.7 414.2 769.0 414.9 768.4C415.6 767.8 416.7 773.9 417.4 777.1C418.1 780.2 419.8 792.8 420.6 794.5C421.4 796.1 423.4 791.9 424.3 790.7C425.2 789.5 427.2 784.8 428.1 784.5C429.0 784.2 430.9 786.9 431.8 788.2C432.7 789.6 435.0 794.4 435.5 795.7C436.1 797.0 436.1 798.6 436.5 799.3C436.9 800.0 438.2 803.0 439.0 801.8C439.7 800.6 441.9 792.2 442.7 789.4C443.5 786.5 445.0 780.4 445.7 778.2C446.4 775.9 448.2 770.7 448.9 770.7C449.7 770.7 451.4 776.2 452.2 778.2C452.9 780.1 454.5 786.1 455.1 786.9C455.7 787.6 456.6 786.8 457.1 784.4C457.7 782.0 459.0 771.2 459.6 767.0C460.2 762.8 461.4 753.0 462.1 749.6C462.8 746.2 464.4 738.4 465.1 738.4C465.8 738.4 467.3 745.9 468.1 749.6C468.8 753.3 470.5 765.0 471.3 769.5C472.1 774.0 473.8 783.3 474.5 786.9C475.3 790.5 476.8 797.2 477.5 799.3C478.2 801.4 479.8 804.6 480.5 804.3C481.2 804.0 482.4 800.4 483.0 796.8C483.6 793.2 484.8 780.1 485.5 774.5C486.2 768.8 488.0 753.5 488.7 749.6C489.4 745.7 491.1 741.8 491.7 741.6C492.3 741.5 493.2 746.2 493.7 748.4C494.1 750.5 495.1 757.9 495.4 759.5C495.7 761.2 496.1 761.7 496.2 762.0L496.2 804.9C496.0 804.6 495.4 803.3 494.9 802.4C494.5 801.5 493.0 797.1 492.4 797.4C491.8 797.7 490.6 801.6 489.9 804.9C489.3 808.1 487.7 819.1 487.0 824.7C486.2 830.4 484.5 847.9 483.7 852.1C483.0 856.3 481.4 859.5 480.5 859.5C479.6 859.5 477.4 855.1 476.3 852.1C475.2 849.1 472.3 839.5 471.3 834.7C470.3 829.9 468.4 815.9 467.6 812.3C466.8 808.7 465.3 804.0 464.6 804.9C463.8 805.8 462.1 814.4 461.4 819.8C460.6 825.1 458.9 844.2 458.1 849.6C457.4 855.0 455.8 862.9 455.1 864.5C454.5 866.2 453.4 864.6 452.7 863.3C451.9 861.9 449.8 855.4 448.9 853.3C448.0 851.2 445.9 846.5 445.2 845.9C444.5 845.3 443.5 848.2 442.7 848.4C442.0 848.5 440.0 848.9 439.0 847.1C438.0 845.3 435.3 835.4 434.3 833.5C433.3 831.6 431.4 830.7 430.6 831.0C429.7 831.3 427.6 834.6 426.8 836.0C426.0 837.3 424.6 842.0 423.8 842.2C423.1 842.3 421.3 839.6 420.6 837.2C419.9 834.8 418.7 825.0 418.1 822.3C417.5 819.6 416.2 814.3 415.6 814.9C415.0 815.5 413.8 823.9 413.2 827.3C412.6 830.7 411.3 840.5 410.7 843.4C410.1 846.4 408.9 851.5 408.2 852.1C407.4 852.7 405.5 850.1 404.5 848.4C403.4 846.8 400.5 840.7 399.5 838.5C398.4 836.2 396.7 832.3 395.8 829.8C394.9 827.2 392.8 820.9 392.0 817.3C391.3 813.8 390.1 803.1 389.5 799.9C388.9 796.8 387.8 791.5 387.1 791.2C386.3 790.9 384.2 796.0 383.3 797.5C382.4 798.9 380.5 803.2 379.6 803.7C378.7 804.1 376.8 800.9 375.9 801.2C375.0 801.5 373.0 804.8 372.1 806.2C371.2 807.5 369.2 812.2 368.4 812.4C367.6 812.5 365.9 807.4 365.2 807.4C364.4 807.4 362.9 812.4 362.2 812.4C361.5 812.4 360.3 808.6 359.7 807.4C359.1 806.2 357.8 802.7 357.2 802.4C356.6 802.1 355.3 802.5 354.7 804.9C354.1 807.3 352.9 818.4 352.3 822.3C351.7 826.2 350.5 834.7 349.8 837.2C349.0 839.8 347.1 842.4 346.0 843.4C345.0 844.5 342.3 845.9 341.1 845.9C339.9 845.9 337.1 844.2 336.1 843.4C335.1 842.7 333.3 840.6 332.4 839.7C331.5 838.8 329.5 836.1 328.6 836.0C327.7 835.8 325.8 838.6 324.9 838.5C324.0 838.3 322.1 834.6 321.2 834.7C320.3 834.9 318.3 837.3 317.5 839.7C316.7 842.1 315.1 851.6 314.5 854.6C313.8 857.6 312.9 865.5 312.0 864.6C311.1 863.6 308.1 850.3 306.9 846.9C305.7 843.4 303.1 836.6 301.9 835.7C300.7 834.8 298.1 839.1 296.9 839.4C295.7 839.7 293.2 838.3 292.0 838.2C290.8 838.0 287.8 837.8 287.0 838.2C286.2 838.5 285.8 840.2 285.4 841.0C285.0 841.8 284.0 844.1 283.5 844.8C283.0 845.5 282.1 846.8 281.6 846.7C281.1 846.6 279.8 844.4 279.2 843.8C278.6 843.2 277.4 841.8 276.8 841.9C276.2 842.0 275.0 843.6 274.4 844.3C273.8 845.0 272.2 846.7 271.5 847.6C270.8 848.5 269.3 850.8 268.7 851.5C268.1 852.2 266.9 852.9 266.3 853.4C265.7 853.9 264.4 854.6 263.9 855.3C263.4 856.0 262.5 857.8 262.0 859.1C261.5 860.4 260.6 864.4 260.1 865.8C259.6 867.2 258.8 869.9 258.2 870.6C257.6 871.3 255.9 870.9 255.3 871.5C254.7 872.1 253.9 874.0 253.4 875.4C252.9 876.8 252.0 881.1 251.5 883.0C251.0 884.9 250.1 889.9 249.6 891.6C249.1 893.3 247.7 894.8 247.1 897.0C246.5 899.2 245.4 907.6 244.8 910.1C244.2 912.6 243.0 917.4 242.5 917.8C242.0 918.2 241.5 912.6 241.0 913.2C240.5 913.8 239.3 920.0 238.7 922.4C238.1 924.8 236.9 934.0 236.4 933.1C235.9 932.2 235.1 919.8 234.8 914.6C234.5 909.4 233.8 899.2 233.6 889.7C233.4 880.2 233.2 844.2 232.9 835.3C232.6 826.4 231.8 819.7 231.4 815.4C230.9 811.2 229.8 801.2 229.4 800.1C228.9 799.0 227.9 803.7 227.5 806.3C227.1 808.8 226.4 817.9 226.0 821.5C225.6 825.2 224.8 834.5 224.5 836.8C224.1 839.2 223.3 841.6 222.9 841.4C222.6 841.3 221.9 836.4 221.4 835.3C221.0 834.2 219.9 832.7 219.1 832.3C218.4 831.8 216.0 830.9 215.3 831.5C214.6 832.1 213.8 835.7 213.0 836.9C212.3 838.2 210.1 839.5 209.3 841.9C208.6 844.3 207.4 855.6 206.8 856.8C206.3 858.1 205.3 850.9 204.8 852.4C204.4 854.0 203.6 866.5 203.1 869.8C202.6 873.1 201.5 879.5 200.6 879.8C199.7 880.1 196.7 874.2 195.6 872.3C194.6 870.5 193.0 866.0 191.9 864.3C190.9 862.6 188.0 859.9 186.9 858.1C185.9 856.3 184.1 851.6 183.2 849.4C182.3 847.1 180.1 842.2 179.5 839.4C178.9 836.6 178.4 830.1 178.0 826.0C177.6 821.9 176.8 811.7 176.3 805.0C175.8 798.3 174.3 778.6 173.6 770.0C172.9 761.4 171.5 740.8 170.8 733.0C170.1 725.2 168.4 710.4 167.9 705.0C167.4 699.6 166.7 691.1 166.3 688.0C165.9 684.9 164.9 679.5 164.4 679.5C163.9 679.5 162.9 684.9 162.5 688.0C162.1 691.1 161.4 699.4 161.0 705.0C160.6 710.6 159.6 726.6 159.2 735.0C158.8 743.4 157.7 764.8 157.3 775.0C156.9 785.2 155.9 809.8 155.5 820.0C155.1 830.2 154.4 853.7 154.0 860.0C153.6 866.3 152.5 871.8 152.1 872.3C151.8 872.8 151.2 866.7 150.9 864.3C150.6 861.8 150.1 855.1 149.7 851.9C149.2 848.6 147.9 838.0 147.2 836.9C146.4 835.9 144.3 842.9 143.4 843.2C142.5 843.5 140.6 840.9 139.7 839.4C138.8 837.9 136.9 832.7 136.0 830.7C135.1 828.8 133.0 823.9 132.3 823.3C131.5 822.7 130.4 823.2 129.8 825.8C129.2 828.3 127.7 842.1 127.3 844.4C126.8 846.7 126.3 843.1 126.0 845.0C125.7 846.8 125.2 856.0 124.8 859.9C124.4 863.8 123.3 874.7 122.8 877.3C122.3 879.8 121.0 881.0 120.3 881.0C119.7 881.0 118.1 877.6 117.3 877.3C116.5 877.0 114.5 879.4 113.6 878.5C112.7 877.6 110.7 871.5 109.9 869.8C109.1 868.2 107.3 865.5 106.9 864.9Z" fill="#8c8c8c"/>
<line x1="87.30" y1="831.30" x2="515.80" y2="831.30" stroke="#111" stroke-width="1.7" stroke-dasharray="8 7.65" stroke-dashoffset="4.2"/>
<line x1="155.30" y1="597.30" x2="155.30" y2="994.70" stroke="#111" stroke-width="1.7" stroke-dasharray="8 7.65"/>
<path d="M106.9 843.2C107.1 843.2 107.2 842.1 107.9 843.2C108.6 844.2 110.2 846.7 111.1 849.4C112.1 852.1 112.7 858.1 113.6 859.3C114.6 860.6 116.0 857.0 116.8 856.8C117.7 856.6 117.9 857.2 118.6 858.1C119.3 859.0 120.2 862.9 121.1 862.3C121.9 861.7 122.5 861.1 123.6 854.3C124.6 847.6 126.2 830.7 127.3 822.0C128.3 813.3 128.9 805.7 129.8 802.1C130.6 798.5 131.2 799.4 132.3 800.4C133.3 801.4 134.7 805.4 136.0 808.4C137.2 811.3 138.6 815.4 139.7 818.3C140.8 821.2 141.7 825.5 142.7 825.8C143.7 826.0 145.1 820.2 145.9 819.5C146.8 818.9 147.0 818.7 147.7 822.0C148.3 825.3 149.0 834.9 149.7 839.4C150.3 844.0 151.0 849.4 151.6 849.4C152.3 849.4 152.8 849.3 153.4 839.4C154.0 829.5 154.6 803.2 155.2 790.0C155.8 776.8 156.2 771.3 156.8 760.0C157.4 748.7 158.1 733.8 158.7 722.4C159.2 711.0 159.6 700.7 160.1 691.8C160.6 682.9 161.2 674.3 161.7 668.8C162.2 663.2 162.8 660.6 163.2 658.5C163.6 656.4 164.0 656.3 164.4 656.3C164.8 656.3 165.0 656.4 165.4 658.5C165.8 660.6 166.1 663.2 166.7 668.8C167.3 674.3 168.1 682.9 169.0 691.8C169.9 700.7 171.1 711.0 172.1 722.4C173.1 733.8 174.3 750.4 175.1 760.0C175.9 769.6 176.3 772.1 176.8 780.0C177.3 787.9 177.6 800.5 178.2 807.1C178.9 813.7 179.9 816.2 180.7 819.5C181.6 822.9 182.4 823.7 183.2 827.0C184.0 830.3 184.9 836.3 185.7 839.4C186.5 842.5 187.2 844.4 188.2 845.6C189.1 846.9 190.4 845.6 191.4 846.9C192.5 848.1 193.3 851.0 194.4 853.1C195.5 855.2 197.1 857.9 198.1 859.3C199.2 860.8 199.8 865.8 200.6 861.8C201.4 857.8 202.3 842.0 203.1 835.3C203.8 828.6 204.6 824.7 205.4 821.5C206.1 818.4 206.8 817.5 207.6 816.2C208.5 814.9 209.7 814.4 210.7 813.9C211.7 813.4 212.9 813.0 213.8 813.1C214.7 813.3 215.2 814.8 216.1 814.7C217.0 814.5 218.2 812.2 219.1 812.4C220.0 812.5 220.7 813.9 221.4 815.4C222.1 817.0 222.7 821.3 223.3 821.5C223.8 821.8 224.3 821.0 224.8 817.0C225.3 812.9 225.8 802.9 226.3 797.1C226.8 791.2 227.4 784.9 227.8 781.8C228.3 778.7 228.7 778.2 229.1 778.4C229.5 778.7 229.9 779.7 230.3 783.3C230.7 786.9 231.0 794.0 231.4 800.1C231.7 806.3 232.1 813.9 232.4 820.0C232.8 826.1 233.1 831.8 233.3 836.8C233.6 841.8 233.7 839.6 234.0 850.0C234.2 860.4 234.5 889.9 234.9 899.4C235.3 908.9 235.9 907.4 236.4 907.1C236.9 906.9 237.4 901.0 237.9 897.9C238.4 894.8 238.8 890.4 239.5 888.7C240.2 887.1 241.0 887.5 241.8 888.0C242.6 888.5 243.5 891.9 244.1 891.8C244.7 891.7 245.1 889.8 245.6 887.2C246.1 884.7 246.5 880.3 247.1 876.5C247.7 872.7 248.6 867.8 249.4 864.2C250.2 860.6 250.9 857.3 251.7 855.1C252.5 852.9 253.2 852.0 254.0 851.2C254.8 850.4 255.5 850.9 256.3 850.5C257.1 850.1 258.0 849.9 258.6 848.9C259.2 847.9 259.1 846.8 260.1 844.4C261.1 842.0 263.3 836.7 264.6 834.5C266.0 832.2 267.3 832.0 268.4 830.7C269.4 829.5 269.8 828.0 270.8 827.0C271.9 826.0 273.1 825.3 274.6 824.5C276.0 823.7 278.1 823.3 279.5 822.0C281.0 820.8 282.2 818.5 283.3 817.1C284.3 815.6 284.9 813.9 285.8 813.3C286.6 812.7 287.4 812.9 288.2 813.3C289.1 813.7 289.7 815.2 290.7 815.8C291.8 816.4 293.3 816.2 294.5 817.1C295.6 817.9 296.5 821.2 297.4 820.8C298.3 820.4 299.1 816.2 299.9 814.6C300.8 812.9 301.6 811.0 302.4 810.8C303.2 810.6 304.1 811.0 304.9 813.3C305.7 815.6 306.4 820.4 307.4 824.5C308.3 828.7 309.7 835.1 310.6 838.2C311.6 841.3 312.3 844.2 313.1 843.2C313.9 842.1 314.8 836.3 315.6 832.0C316.4 827.6 317.2 820.4 318.1 817.1C318.9 813.7 319.6 812.0 320.6 812.1C321.5 812.1 322.7 816.3 323.7 817.3C324.6 818.4 325.2 819.0 326.2 818.6C327.1 818.2 328.4 815.3 329.4 814.9C330.4 814.4 331.3 815.1 332.4 816.1C333.5 817.1 334.9 820.0 336.1 821.1C337.3 822.2 338.6 822.6 339.8 822.8C341.1 823.0 342.3 822.9 343.6 822.3C344.8 821.7 346.0 820.8 347.3 819.3C348.5 817.9 350.0 816.8 351.0 813.6C352.0 810.4 352.8 804.4 353.5 799.9C354.2 795.5 354.9 789.4 355.5 787.0C356.1 784.6 356.6 784.9 357.2 785.8C357.8 786.6 358.6 790.5 359.2 792.0C359.8 793.4 360.3 794.7 361.0 794.5C361.7 794.2 362.6 791.8 363.4 790.7C364.3 789.7 365.1 787.8 365.9 788.2C366.8 788.7 367.7 792.2 368.4 793.2C369.2 794.2 369.6 795.5 370.4 794.5C371.2 793.4 372.5 789.3 373.4 787.0C374.3 784.7 375.0 781.8 375.9 780.8C376.7 779.7 377.5 780.6 378.4 780.8C379.2 781.0 380.0 783.1 380.8 782.0C381.7 781.0 382.5 776.8 383.3 774.6C384.2 772.3 385.1 769.5 385.8 768.4C386.5 767.2 386.9 766.6 387.6 767.6C388.2 768.6 388.8 770.5 389.5 774.6C390.3 778.6 391.2 787.4 392.0 792.0C392.9 796.5 393.5 799.4 394.5 801.9C395.5 804.4 397.0 804.8 398.2 806.9C399.5 809.0 401.2 812.6 402.0 814.3C402.8 816.1 402.2 815.6 402.9 817.3C403.7 818.9 405.5 823.4 406.7 824.2C407.8 825.1 408.9 825.5 409.9 822.3C410.9 819.0 411.6 809.6 412.4 804.9C413.2 800.1 414.1 794.5 414.9 793.7C415.7 792.8 416.3 795.9 417.1 799.9C417.9 803.8 419.0 813.6 419.8 817.3C420.7 821.0 421.5 822.7 422.3 822.3C423.2 821.8 423.9 816.7 424.8 814.8C425.7 812.9 426.7 811.7 427.8 811.1C428.9 810.4 430.4 810.4 431.5 811.1C432.7 811.7 433.7 812.5 434.8 814.8C435.8 817.1 436.9 822.8 437.7 824.7C438.6 826.7 439.0 827.6 439.7 826.7C440.5 825.9 441.3 822.2 442.2 819.8C443.1 817.4 444.3 813.8 445.2 812.3C446.1 810.9 446.9 810.4 447.7 811.1C448.5 811.7 449.3 813.8 450.2 816.0C451.0 818.3 451.8 822.9 452.7 824.7C453.5 826.6 454.3 828.5 455.1 827.2C456.0 826.0 456.8 822.7 457.6 817.3C458.5 811.9 459.5 801.6 460.1 794.9C460.7 788.2 460.5 781.0 461.4 776.9C462.2 772.9 463.8 770.7 465.1 770.7C466.3 770.7 467.7 773.4 468.8 776.9C470.0 780.5 471.4 788.9 472.0 791.9C472.7 794.9 471.8 789.8 472.5 794.9C473.2 800.0 475.1 816.0 476.3 822.3C477.4 828.5 478.5 830.7 479.5 832.2C480.5 833.6 481.2 833.4 482.0 831.0C482.8 828.5 483.6 823.3 484.5 817.3C485.3 811.3 486.3 801.6 487.0 794.9C487.7 788.2 488.0 781.0 488.7 776.9C489.4 772.9 490.4 770.7 491.2 770.7C492.0 770.7 493.0 773.8 493.7 776.9C494.4 780.0 495.0 786.1 495.4 789.4C495.8 792.7 496.1 795.6 496.2 796.8" fill="none" stroke="#000" stroke-width="4.6" stroke-linejoin="round" stroke-linecap="butt"/>
<line x1="132.4" y1="592.5" x2="154.0" y2="592.5" stroke="#ca0020" stroke-width="3.4"/>
<line x1="156.7" y1="592.5" x2="203.0" y2="592.5" stroke="#0a63b4" stroke-width="3.4"/>
<text transform="translate(93.17,585.10) scale(1.0643,1)" font-size="15.5" stroke="#ca0020" stroke-width="0.25" fill="#ca0020">Baseline</text>
<text transform="translate(156.50,585.10) scale(1.0693,1)" font-size="15.5" stroke="#0a63b4" stroke-width="0.25" fill="#0a63b4">Cue Period</text>
<path d="M87.30 567.50V994.70H515.80" fill="none" stroke="#000" stroke-width="2.1"/>
<rect x="86.25" y="993.65" width="2.1" height="2.1" fill="#000"/>
<line x1="81.80" x2="87.30" y1="687.30" y2="687.30" stroke="#333" stroke-width="2"/>
<text transform="translate(45.98,693.05) scale(1.0300,1)" font-size="16" stroke="#4d4d4d" stroke-width="0.25" fill="#4d4d4d">1.00</text>
<line x1="81.80" x2="87.30" y1="831.30" y2="831.30" stroke="#333" stroke-width="2"/>
<text transform="translate(45.98,837.05) scale(1.0300,1)" font-size="16" stroke="#4d4d4d" stroke-width="0.25" fill="#4d4d4d">0.00</text>
<line x1="81.80" x2="87.30" y1="974.70" y2="974.70" stroke="#333" stroke-width="2"/>
<text transform="translate(36.33,980.45) scale(1.0300,1)" font-size="16" stroke="#4d4d4d" stroke-width="0.25" fill="#4d4d4d">−1.00</text>
<line x1="155.30" x2="155.30" y1="994.70" y2="999.70" stroke="#333" stroke-width="2"/>
<text transform="translate(150.69,1015.90) scale(1.0400,1)" font-size="16" stroke="#4d4d4d" stroke-width="0.25" fill="#4d4d4d">0</text>
<line x1="277.60" x2="277.60" y1="994.70" y2="999.70" stroke="#333" stroke-width="2"/>
<text transform="translate(272.99,1015.90) scale(1.0400,1)" font-size="16" stroke="#4d4d4d" stroke-width="0.25" fill="#4d4d4d">5</text>
<line x1="399.90" x2="399.90" y1="994.70" y2="999.70" stroke="#333" stroke-width="2"/>
<text transform="translate(390.34,1015.90) scale(1.0400,1)" font-size="16" stroke="#4d4d4d" stroke-width="0.25" fill="#4d4d4d">10</text>
<text transform="translate(264.38,1038.60) scale(1.0342,1)" font-size="20" stroke="#000" stroke-width="0.25" fill="#000">Time (s)</text>
<text transform="translate(22.50,803.42) rotate(-90) scale(1.0325,1)" font-size="20" fill="#000" stroke="#000" stroke-width="0.22">β<tspan font-size="14" dy="3.9">1</tspan><tspan dy="-3.9">(s)</tspan></text>
<text transform="translate(229.66,552.40) scale(0.9718,1)" font-size="24" font-weight="bold" fill="#000">Trial Number</text>
</g>
</svg>
</body></html>
